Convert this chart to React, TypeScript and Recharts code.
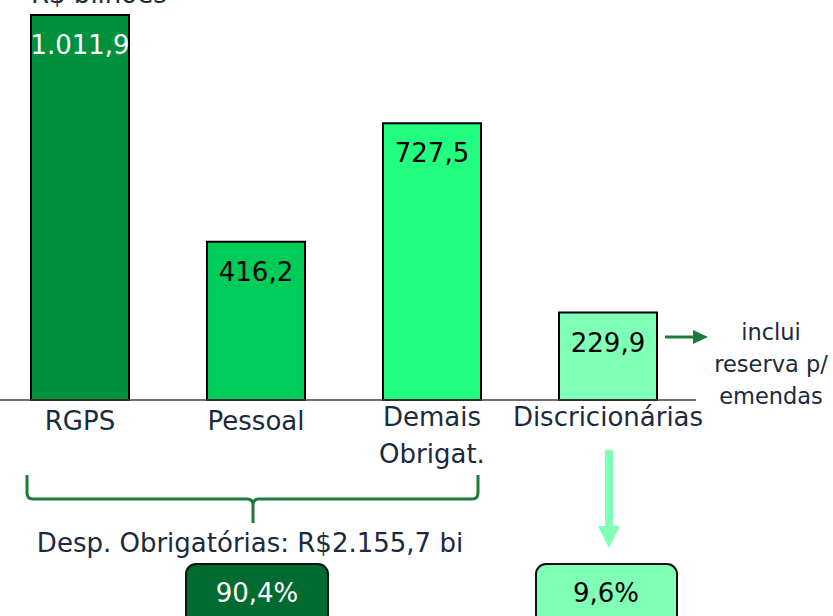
import { BarChart, Bar, XAxis, YAxis, Cell, LabelList } from "recharts";

const categories = ["RGPS", "Pessoal", "Demais Obrigat.", "Discricionárias"];
const tickLines = [["RGPS"], ["Pessoal"], ["Demais", "Obrigat."], ["Discricionárias"]];
const values = [1011.9, 416.2, 727.5, 229.9];
const barColors = ["#00913f", "#00cc5a", "#22ff80", "#80ffb6"];
const labelColors = ["#ffffff", "#000000", "#000000", "#000000"];
const unitLabel = "R$ bilhões";
const noteLines = ["inclui", "reserva p/", "emendas"];
const obrigTotal = "Desp. Obrigatórias: R$2.155,7 bi";
const shareLabels = ["90,4%", "9,6%"];

const data = categories.map((c, i) => ({ category: c, value: values[i] }));

const FONT = "'DejaVu Sans', Verdana, sans-serif";
const TEXT = "#1b2a3d";

// 1011.9 -> "1.011,9"
function fmtBR(v: number) {
  const [int, dec] = v.toFixed(1).split(".");
  return int.replace(/\B(?=(\d{3})+(?!\d))/g, ".") + "," + dec;
}

function CategoryTick(props: any) {
  const { x, y, payload } = props;
  const lines = tickLines[payload.index] ?? [payload.value];
  // the single-line labels sit a bit lower in the original
  const top = lines.length > 1 || payload.index === 3 ? 18 : 22;
  return (
    <text x={x} y={y + top} textAnchor="middle" fontFamily={FONT} fontSize={26} fill={TEXT}>
      {lines.map((l: string, i: number) => (
        <tspan key={i} x={x} dy={i === 0 ? 0 : 37}>
          {l}
        </tspan>
      ))}
    </text>
  );
}

function ValueLabel(props: any) {
  const { x, y, width, value, index } = props;
  return (
    <text
      x={x + width / 2}
      y={y + 30}
      textAnchor="middle"
      dominantBaseline="central"
      fontFamily={FONT}
      fontSize={26}
      fill={labelColors[index] ?? "#000"}
    >
      {fmtBR(Number(value))}
    </text>
  );
}

function Annotations() {
  const green = "#1e7a3a";
  return (
    <svg
      width={833}
      height={616}
      style={{ position: "absolute", left: 0, top: 0, pointerEvents: "none" }}
      fontFamily={FONT}
    >
      <text x={31} y={3} fontSize={26} fill={TEXT}>
        {unitLabel}
      </text>

      {/* arrow to note */}
      <line x1={665} y1={337} x2={695} y2={337} stroke={green} strokeWidth={3} />
      <polygon points="693,330 708,337 693,344" fill={green} />
      {noteLines.map((l, i) => (
        <text key={i} x={771} y={332 + i * 32} textAnchor="middle" dominantBaseline="central" fontSize={22.5} fill={TEXT}>
          {l}
        </text>
      ))}

      {/* brace under mandatory spending */}
      <path
        d="M27,475 L27,493 Q27,499 33,499 L247,499 Q253,499 253,505 L253,523 L253,505 Q253,499 259,499 L472,499 Q478,499 478,493 L478,475"
        fill="none"
        stroke={green}
        strokeWidth={3}
      />
      <text x={250} y={543} textAnchor="middle" dominantBaseline="central" fontSize={26} fill={TEXT}>
        {obrigTotal}
      </text>

      {/* down arrow */}
      <rect x={605} y={450} width={8} height={78} fill="#80ffb6" />
      <polygon points="598,526 620,526 609,548" fill="#80ffb6" />

      {/* share boxes */}
      <rect x={186} y={564} width={142} height={70} rx={10} fill="#006b30" stroke="#111" strokeWidth={2} />
      <text x={257} y={593} textAnchor="middle" dominantBaseline="central" fontSize={26} fill="#ffffff">
        {shareLabels[0]}
      </text>
      <rect x={536} y={564} width={141} height={70} rx={10} fill="#80ffb6" stroke="#111" strokeWidth={2} />
      <text x={606} y={593} textAnchor="middle" dominantBaseline="central" fontSize={26} fill="#000000">
        {shareLabels[1]}
      </text>
    </svg>
  );
}

export default function App() {
  return (
    <div style={{ position: "absolute", left: 0, top: 0, width: 833, height: 616, background: "#fff", overflow: "hidden" }}>
      <BarChart
        width={833}
        height={616}
        data={data}
        margin={{ top: 15, right: 137, left: -8, bottom: 156 }}
      >
        <XAxis
          dataKey="category"
          height={60}
          interval={0}
          tickLine={false}
          axisLine={{ stroke: "#404040", strokeWidth: 1.5 }}
          tick={<CategoryTick />}
        />
        <YAxis hide domain={[0, 1011.9]} />
        <Bar dataKey="value" barSize={98} stroke="#000" strokeWidth={2} isAnimationActive={false}>
          {data.map((d, i) => (
            <Cell key={d.category} fill={barColors[i]} />
          ))}
          <LabelList dataKey="value" content={<ValueLabel />} />
        </Bar>
      </BarChart>
      <Annotations />
    </div>
  );
}
